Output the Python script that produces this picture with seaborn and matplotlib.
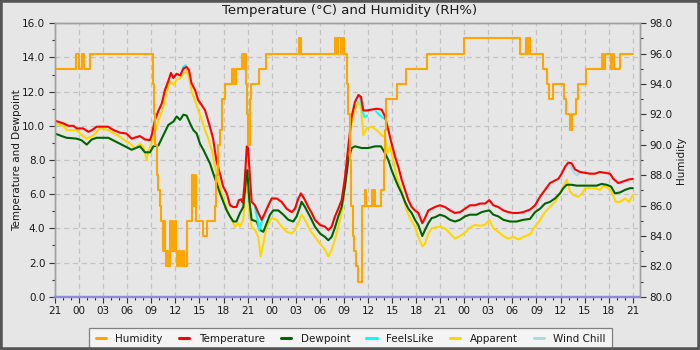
import matplotlib
matplotlib.use("Agg")
import matplotlib.pyplot as plt
import numpy as np
import pandas as pd
import seaborn as sns
from matplotlib.lines import Line2D
from matplotlib.patches import Rectangle
from matplotlib.ticker import MultipleLocator, FormatStrFormatter, FixedLocator

# ---- data (hours since 21:00 on the first day) ----
temp_h = [0.0, 1.0, 1.7, 2.3, 2.7, 3.5, 4.15, 4.6, 5.2, 6.6, 7.3, 8.1, 8.9, 9.55, 10.2, 10.6, 11.2,
          11.84, 12.05, 12.45, 12.9, 13.3, 13.7, 14.1, 14.45, 14.75, 15.15, 15.6, 16.0, 16.4, 16.7,
          17.0, 17.45, 17.85, 18.3, 18.7, 19.3, 19.7, 20.1, 20.55, 20.95, 21.4, 21.8, 22.2, 22.6,
          22.9, 23.2, 23.4, 23.6, 23.75, 23.9, 24.05, 24.3, 24.5, 24.92, 25.33, 25.75, 26.16, 26.58,
          27.0, 27.62, 28.24, 28.86, 29.49, 29.9, 30.32, 30.65, 31.15, 31.56, 31.98, 32.39, 33.02,
          33.64, 34.06, 34.47, 34.89, 35.3, 35.72, 36.14, 36.55, 36.97, 37.38, 37.8, 38.13, 38.42,
          38.83, 39.46, 40.08, 40.7, 41.12, 41.53, 41.95, 42.37, 42.78, 43.2, 43.61, 44.03, 44.44,
          44.86, 45.27, 45.77, 46.1, 46.52, 46.93, 47.35, 47.98, 48.6, 49.22, 49.84, 50.47, 51.09,
          51.71, 52.34, 52.96, 53.58, 54.12, 54.62, 55.24, 55.87, 56.49, 57.11, 57.73, 58.36, 59.19,
          59.82, 60.44, 61.06, 61.68, 62.31, 62.72, 63.14, 63.55, 63.97, 64.38, 64.8, 65.42, 66.05,
          66.67, 67.29, 67.91, 68.54, 69.16, 69.57, 70.2, 70.82, 71.44, 72.0]
temp_c = [10.3, 10.15, 10.0, 10.0, 9.85, 9.85, 9.65, 9.75, 9.95, 9.95, 9.75, 9.6, 9.55, 9.25, 9.35, 9.4, 9.2,
          9.17, 9.45, 10.35, 10.9, 11.3, 12.1, 12.6, 13.1, 12.8, 13.05, 12.95, 13.35, 13.45, 13.25,
          12.5, 12.1, 11.5, 11.2, 10.9, 9.95, 9.25, 8.0, 7.2, 6.45, 6.05, 5.35, 5.25, 5.25,
          5.65, 5.7, 5.5, 6.5, 7.6, 8.8, 8.7, 7.0, 5.55, 5.35, 4.9, 4.5, 4.9, 5.35,
          5.75, 5.75, 5.55, 5.15, 4.95, 5.15, 5.75, 6.05, 5.65, 5.25, 4.9, 4.5, 4.2,
          4.1, 3.9, 4.1, 4.7, 5.15, 5.65, 7.0, 8.8, 10.55, 11.4, 11.8, 11.7, 10.9,
          10.9, 10.95, 11.0, 10.95, 10.55, 9.75, 8.95, 8.2, 7.6, 6.85, 6.25, 5.65, 5.25,
          5.05, 4.9, 4.3, 4.6, 5.05, 5.15, 5.25, 5.35, 5.25, 5.05, 4.9, 4.95, 5.15,
          5.35, 5.35, 5.45, 5.45, 5.65, 5.35, 5.25, 5.05, 4.95, 4.9, 4.9, 4.95, 5.1,
          5.35, 5.85, 6.25, 6.65, 6.8, 6.9, 7.2, 7.6, 7.85, 7.8, 7.45, 7.3, 7.25,
          7.2, 7.2, 7.3, 7.25, 7.2, 6.9, 6.65, 6.75, 6.85, 6.9]

dew_h = [0.0, 0.83, 1.45, 2.7, 3.32, 3.95, 4.57, 5.19, 6.64, 7.68, 8.51, 9.55, 10.59, 11.21, 11.84,
         12.25, 12.88, 13.5, 14.12, 14.75, 15.16, 15.58, 16.0, 16.4, 16.82, 17.24, 17.65, 18.07,
         18.48, 18.9, 19.31, 19.73, 20.14, 20.56, 20.97, 21.39, 21.8, 22.22, 22.6, 23.05, 23.46,
         23.8, 23.96, 24.21, 24.5, 25.13, 25.54, 25.96, 26.37, 26.79, 27.2, 27.83, 28.45, 29.07,
         29.7, 30.11, 30.53, 30.73, 31.15, 31.77, 32.39, 33.02, 33.64, 34.06, 34.47, 34.89, 35.3,
         35.72, 36.14, 36.55, 36.97, 37.38, 38.21, 39.04, 39.87, 40.62, 41.12, 41.53, 41.95, 42.37,
         42.78, 43.2, 43.61, 44.03, 44.44, 44.86, 45.27, 45.77, 46.1, 46.52, 46.93, 47.35, 47.98,
         48.6, 49.22, 49.84, 50.47, 51.09, 51.71, 52.54, 53.17, 53.58, 54.12, 54.62, 55.24, 55.87,
         56.7, 57.53, 58.36, 59.19, 59.82, 60.44, 61.06, 61.68, 62.31, 62.93, 63.35, 63.76, 64.38,
         65.0, 65.63, 66.25, 66.88, 67.5, 68.12, 68.74, 69.28, 69.78, 70.4, 71.03, 71.65, 72.0]
dew_c = [9.55, 9.4, 9.3, 9.25, 9.15, 8.9, 9.2, 9.3, 9.3, 9.05, 8.85, 8.6, 8.8, 8.45, 8.45,
         8.8, 8.85, 9.45, 10.05, 10.25, 10.55, 10.35, 10.65, 10.6, 10.15, 9.75, 9.55, 8.95,
         8.6, 8.2, 7.8, 7.2, 6.65, 6.05, 5.55, 5.05, 4.7, 4.4, 4.4, 4.9, 5.25,
         6.85, 7.4, 5.65, 4.5, 4.4, 3.9, 3.8, 4.3, 4.8, 5.05, 5.05, 4.8, 4.5,
         4.4, 4.7, 5.25, 5.55, 5.25, 4.7, 4.1, 3.7, 3.5, 3.3, 3.5, 4.05, 4.7,
         5.25, 6.45, 8.0, 8.7, 8.8, 8.7, 8.7, 8.8, 8.8, 8.4, 8.0, 7.4, 6.9,
         6.45, 6.05, 5.55, 5.15, 4.9, 4.5, 4.2, 3.55, 3.9, 4.3, 4.6, 4.65, 4.8,
         4.7, 4.5, 4.4, 4.5, 4.7, 4.8, 4.8, 4.95, 5.0, 5.05, 4.8, 4.7, 4.5,
         4.4, 4.4, 4.5, 4.55, 4.95, 5.15, 5.45, 5.55, 5.75, 6.05, 6.35, 6.55, 6.55,
         6.5, 6.5, 6.5, 6.5, 6.5, 6.6, 6.55, 6.45, 6.05, 6.1, 6.25, 6.35, 6.35]

app_h = [0.0, 1.04, 1.45, 2.7, 3.32, 3.95, 4.78, 5.6, 6.64, 8.1, 9.34, 9.97, 10.59, 11.0, 11.42, 11.6,
         11.84, 12.25, 12.67, 13.08, 13.5, 13.9, 14.33, 14.75, 15.16, 15.58, 16.0, 16.41, 16.7,
         17.03, 17.44, 17.86, 18.28, 18.69, 19.1, 19.52, 19.94, 20.35, 20.77, 21.18, 21.6, 22.01,
         22.43, 22.84, 23.05, 23.26, 23.46, 23.8, 23.96, 24.21, 24.5, 24.92, 25.33, 25.62, 25.96,
         26.37, 27.0, 27.62, 28.24, 28.86, 29.49, 29.9, 30.32, 30.73, 31.15, 31.77, 32.39, 33.02,
         33.64, 34.06, 34.47, 34.89, 35.3, 35.72, 36.14, 36.55, 36.97, 37.38, 37.8, 38.13, 38.42,
         38.83, 39.46, 40.08, 40.7, 41.12, 41.45, 41.74, 42.16, 42.57, 42.99, 43.4, 43.82, 44.23,
         44.86, 45.27, 45.77, 46.1, 46.52, 46.93, 47.35, 47.98, 48.6, 49.22, 49.84, 50.47, 51.09,
         51.71, 52.34, 52.96, 53.58, 54.12, 54.62, 55.24, 55.87, 56.49, 57.11, 57.73, 58.36, 59.19,
         59.82, 60.44, 61.06, 61.68, 62.31, 62.93, 63.35, 63.76, 64.18, 64.59, 65.21, 65.71, 66.05,
         66.67, 67.29, 67.91, 68.33, 68.95, 69.45, 69.87, 70.4, 71.03, 71.53, 72.0]
app_c = [10.15, 10.0, 9.75, 9.75, 9.45, 9.25, 9.45, 9.85, 9.75, 9.35, 8.95, 8.7, 8.95, 8.8, 8.0, 8.5,
         8.75, 9.35, 9.95, 10.55, 11.1, 12.0, 12.6, 12.4, 12.7, 12.8, 13.05, 13.25, 12.8,
         12.0, 11.5, 10.9, 10.35, 9.75, 9.25, 8.6, 7.6, 6.85, 6.05, 5.45, 4.9, 4.5,
         4.1, 4.3, 4.1, 4.3, 4.5, 6.45, 6.65, 4.9, 4.1, 3.9, 3.5, 2.35, 3.1,
         4.1, 4.6, 4.5, 4.1, 3.8, 3.7, 3.9, 4.3, 4.8, 4.5, 3.9, 3.5, 3.1,
         2.75, 2.35, 2.75, 3.35, 4.1, 4.9, 6.6, 8.4, 10.15, 11.0, 11.4, 11.1, 9.45,
         9.85, 9.95, 9.75, 9.45, 9.35, 8.4, 8.8, 8.0, 7.0, 6.45, 5.85, 5.05, 4.6,
         4.1, 3.5, 2.95, 3.1, 3.7, 4.0, 4.05, 4.1, 4.0, 3.7, 3.4, 3.55, 3.75,
         4.05, 4.2, 4.15, 4.2, 4.5, 4.0, 3.8, 3.55, 3.4, 3.5, 3.35, 3.5, 3.65,
         4.1, 4.5, 4.95, 5.25, 5.55, 6.05, 6.45, 6.85, 6.15, 5.95, 5.85, 6.05, 6.35,
         6.35, 6.35, 6.25, 6.5, 6.35, 6.05, 5.55, 5.55, 5.75, 5.55, 5.95]

# FeelsLike / Wind Chill: only the stretches where they part from the temperature
feels_seg = [1, 1, 1, 2, 2, 2, 2, 2, 3, 3, 3, 3, 3, 4, 4, 4, 4]
feels_h = [15.7, 16.0, 16.3, 24.9, 25.2, 25.45, 25.7, 26.0, 37.9, 38.1, 38.3, 38.6, 38.9,
           40.0, 40.4, 40.8, 41.1]
feels_c = [13.0, 13.45, 13.55, 5.3, 4.6, 3.9, 4.3, 4.6, 11.8, 11.5, 10.9, 10.5, 10.6,
           10.85, 10.65, 10.5, 10.4]

chill_h = [63.9, 64.3, 64.7, 65.1, 65.4]
chill_c = [7.8, 7.6, 7.25, 7.1, 7.3]

hum_h = [0.0, 2.6, 3.0, 3.3, 3.6, 4.3, 12.25, 12.35, 12.5, 12.65, 12.85, 13.05, 13.2, 13.45, 13.55,
         13.7, 13.85, 13.95, 14.1, 14.3, 14.45, 14.6, 14.75, 14.9, 15.05, 15.2, 15.5, 15.65, 16.0,
         16.1, 16.5, 17.1, 17.25, 17.4, 17.55, 18.5, 19.0, 19.9, 20.05, 20.3, 20.5, 20.75, 21.2,
         22.0, 22.3, 22.6, 23.3, 23.5, 23.7, 23.8, 23.9, 24.05, 24.25, 24.35, 24.45, 25.4, 26.3,
         30.4, 30.6, 34.9, 35.1, 35.3, 35.6, 35.8, 36.0, 36.4, 36.5, 36.7, 36.9, 37.1, 37.3, 37.55,
         37.75, 38.2, 38.3, 38.6, 38.75, 39.5, 39.6, 39.8, 39.9, 40.6, 41.0, 41.1, 41.3, 42.6, 43.8,
         46.3, 51.0, 57.9, 58.7, 58.85, 59.0, 59.2, 60.8, 61.3, 61.5, 62.0, 63.4, 63.7, 64.2, 64.4,
         64.9, 65.2, 66.2, 68.2, 68.35, 68.5, 69.3, 69.5, 69.7, 70.4, 72.05]
hum_rh = [95, 96, 95, 96, 95, 96, 94, 92, 90, 88, 87, 86, 85, 83, 85,
          83, 82, 83, 82, 85, 83, 85, 83, 85, 83, 82, 83, 82, 83,
          82, 85, 88, 86, 88, 85, 84, 85, 86, 88, 90, 91, 93, 94,
          95, 94, 95, 96, 95, 96, 94, 92, 90, 92, 93, 94, 95, 96,
          97, 96, 97, 96, 97, 96, 97, 96, 94, 92, 89, 86, 84, 83, 82,
          81, 83, 86, 87, 86, 87, 86, 87, 86, 87, 89, 91, 93, 94, 95,
          96, 97, 96, 97, 96, 97, 96, 95, 94, 93, 94, 93, 92, 91, 92,
          93, 94, 95, 96, 95, 96, 95, 96, 95, 96, 96]

hour_ticks = list(range(0, 73, 3))
hour_labels = ["21", "00", "03", "06", "09", "12", "15", "18"] * 3 + ["21"]

series_names = ["Humidity", "Temperature", "Dewpoint", "FeelsLike", "Apparent", "Wind Chill"]
series_colors = ["#ffa500", "#ff0000", "#006400", "#00ffff", "#ffd700", "#add8e6"]
colors = dict(zip(series_names, series_colors))

# ---- styling ----
sns.set_theme(style="white")
plt.rcParams["font.family"] = ["DejaVu Sans"]
bg = "#e6e6e6"
txt = "#1a1a1a"

fig = plt.figure(figsize=(7, 3.5), dpi=100, facecolor=bg)
ax = fig.add_axes([0.0786, 0.1523, 0.8357, 0.7811])
ax.set_facecolor(bg)
ax2 = ax.twinx()

lw = 1.5
sns.lineplot(x=app_h, y=app_c, ax=ax, color=colors["Apparent"], lw=lw,
             estimator=None, sort=False, legend=False)
sns.lineplot(x=chill_h, y=chill_c, ax=ax, color=colors["Wind Chill"], lw=lw,
             estimator=None, sort=False, legend=False)
sns.lineplot(x=dew_h, y=dew_c, ax=ax, color=colors["Dewpoint"], lw=lw,
             estimator=None, sort=False, legend=False)
feels_df = pd.DataFrame({"h": feels_h, "c": feels_c, "seg": feels_seg})
sns.lineplot(data=feels_df, x="h", y="c", units="seg", ax=ax, color=colors["FeelsLike"],
             lw=lw, estimator=None, sort=False, legend=False)
sns.lineplot(x=temp_h, y=temp_c, ax=ax, color=colors["Temperature"], lw=lw,
             estimator=None, sort=False, legend=False)
sns.lineplot(x=hum_h, y=hum_rh, ax=ax2, color=colors["Humidity"], lw=lw,
             estimator=None, sort=False, legend=False, drawstyle="steps-post")

# axes ranges and ticks
ax.set_xlim(0, 72.9)
ax.set_ylim(0, 16)
ax2.set_ylim(80, 98)
ax.xaxis.set_major_locator(FixedLocator(hour_ticks))
ax.set_xticklabels(hour_labels)
ax.xaxis.set_minor_locator(MultipleLocator(1))
ax.yaxis.set_major_locator(MultipleLocator(2))
ax.yaxis.set_minor_locator(MultipleLocator(1))
ax.yaxis.set_major_formatter(FormatStrFormatter("%.1f"))
ax2.yaxis.set_major_locator(MultipleLocator(2))
ax2.yaxis.set_minor_locator(MultipleLocator(1))
ax2.yaxis.set_major_formatter(FormatStrFormatter("%.1f"))

for a in (ax, ax2):
    a.tick_params(which="major", direction="out", length=4, width=0.8, color="#333333",
                  labelsize=7.5, labelcolor=txt, pad=3)
    a.tick_params(which="minor", direction="out", length=2.5, width=0.8, color="#333333")
    for side in ("top", "left", "right"):
        a.spines[side].set_color("#a0a0a0")
        a.spines[side].set_linewidth(1.0)
    a.spines["bottom"].set_color("#8c8cdc")
    a.spines["bottom"].set_linewidth(1.6)
ax.tick_params(axis="x", which="both", bottom=True)
ax.tick_params(axis="y", which="both", left=True)
ax2.tick_params(axis="y", which="both", right=True)

ax.set_axisbelow(True)
ax.grid(True, which="major", linestyle=(0, (4, 3)), color="#c2c2c2", linewidth=0.9)

ax.set_xlabel("")
ax.set_ylabel("Temperature and Dewpoint", fontsize=7.5, color=txt)
ax2.set_ylabel("Humidity", fontsize=7.5, color=txt)
ax.yaxis.set_label_coords(-0.057, 0.5)
ax2.yaxis.set_label_coords(1.062, 0.5)

fig.text(0.5, 0.970, "Temperature (°C) and Humidity (RH%)", ha="center", va="center",
         fontsize=9.5, color=txt)

handles = [Line2D([], [], color=colors[n], lw=2.2) for n in series_names]
leg = fig.legend(handles, series_names, loc="upper center", bbox_to_anchor=(0.501, 0.079),
                 ncol=6, frameon=True, fancybox=False, shadow=False, fontsize=7.5,
                 handlelength=1.0, handletextpad=0.9, columnspacing=1.55, borderpad=0.6,
                 facecolor="#f4f4f4", edgecolor="#808080", framealpha=1.0)
leg.get_frame().set_linewidth(0.9)
for t in leg.get_texts():
    t.set_color(txt)

fig.add_artist(Rectangle((0, 0), 1, 1, transform=fig.transFigure, fill=False,
                         edgecolor="#555555", lw=4, zorder=100))

fig.savefig("out.png", dpi=100, facecolor=bg)
